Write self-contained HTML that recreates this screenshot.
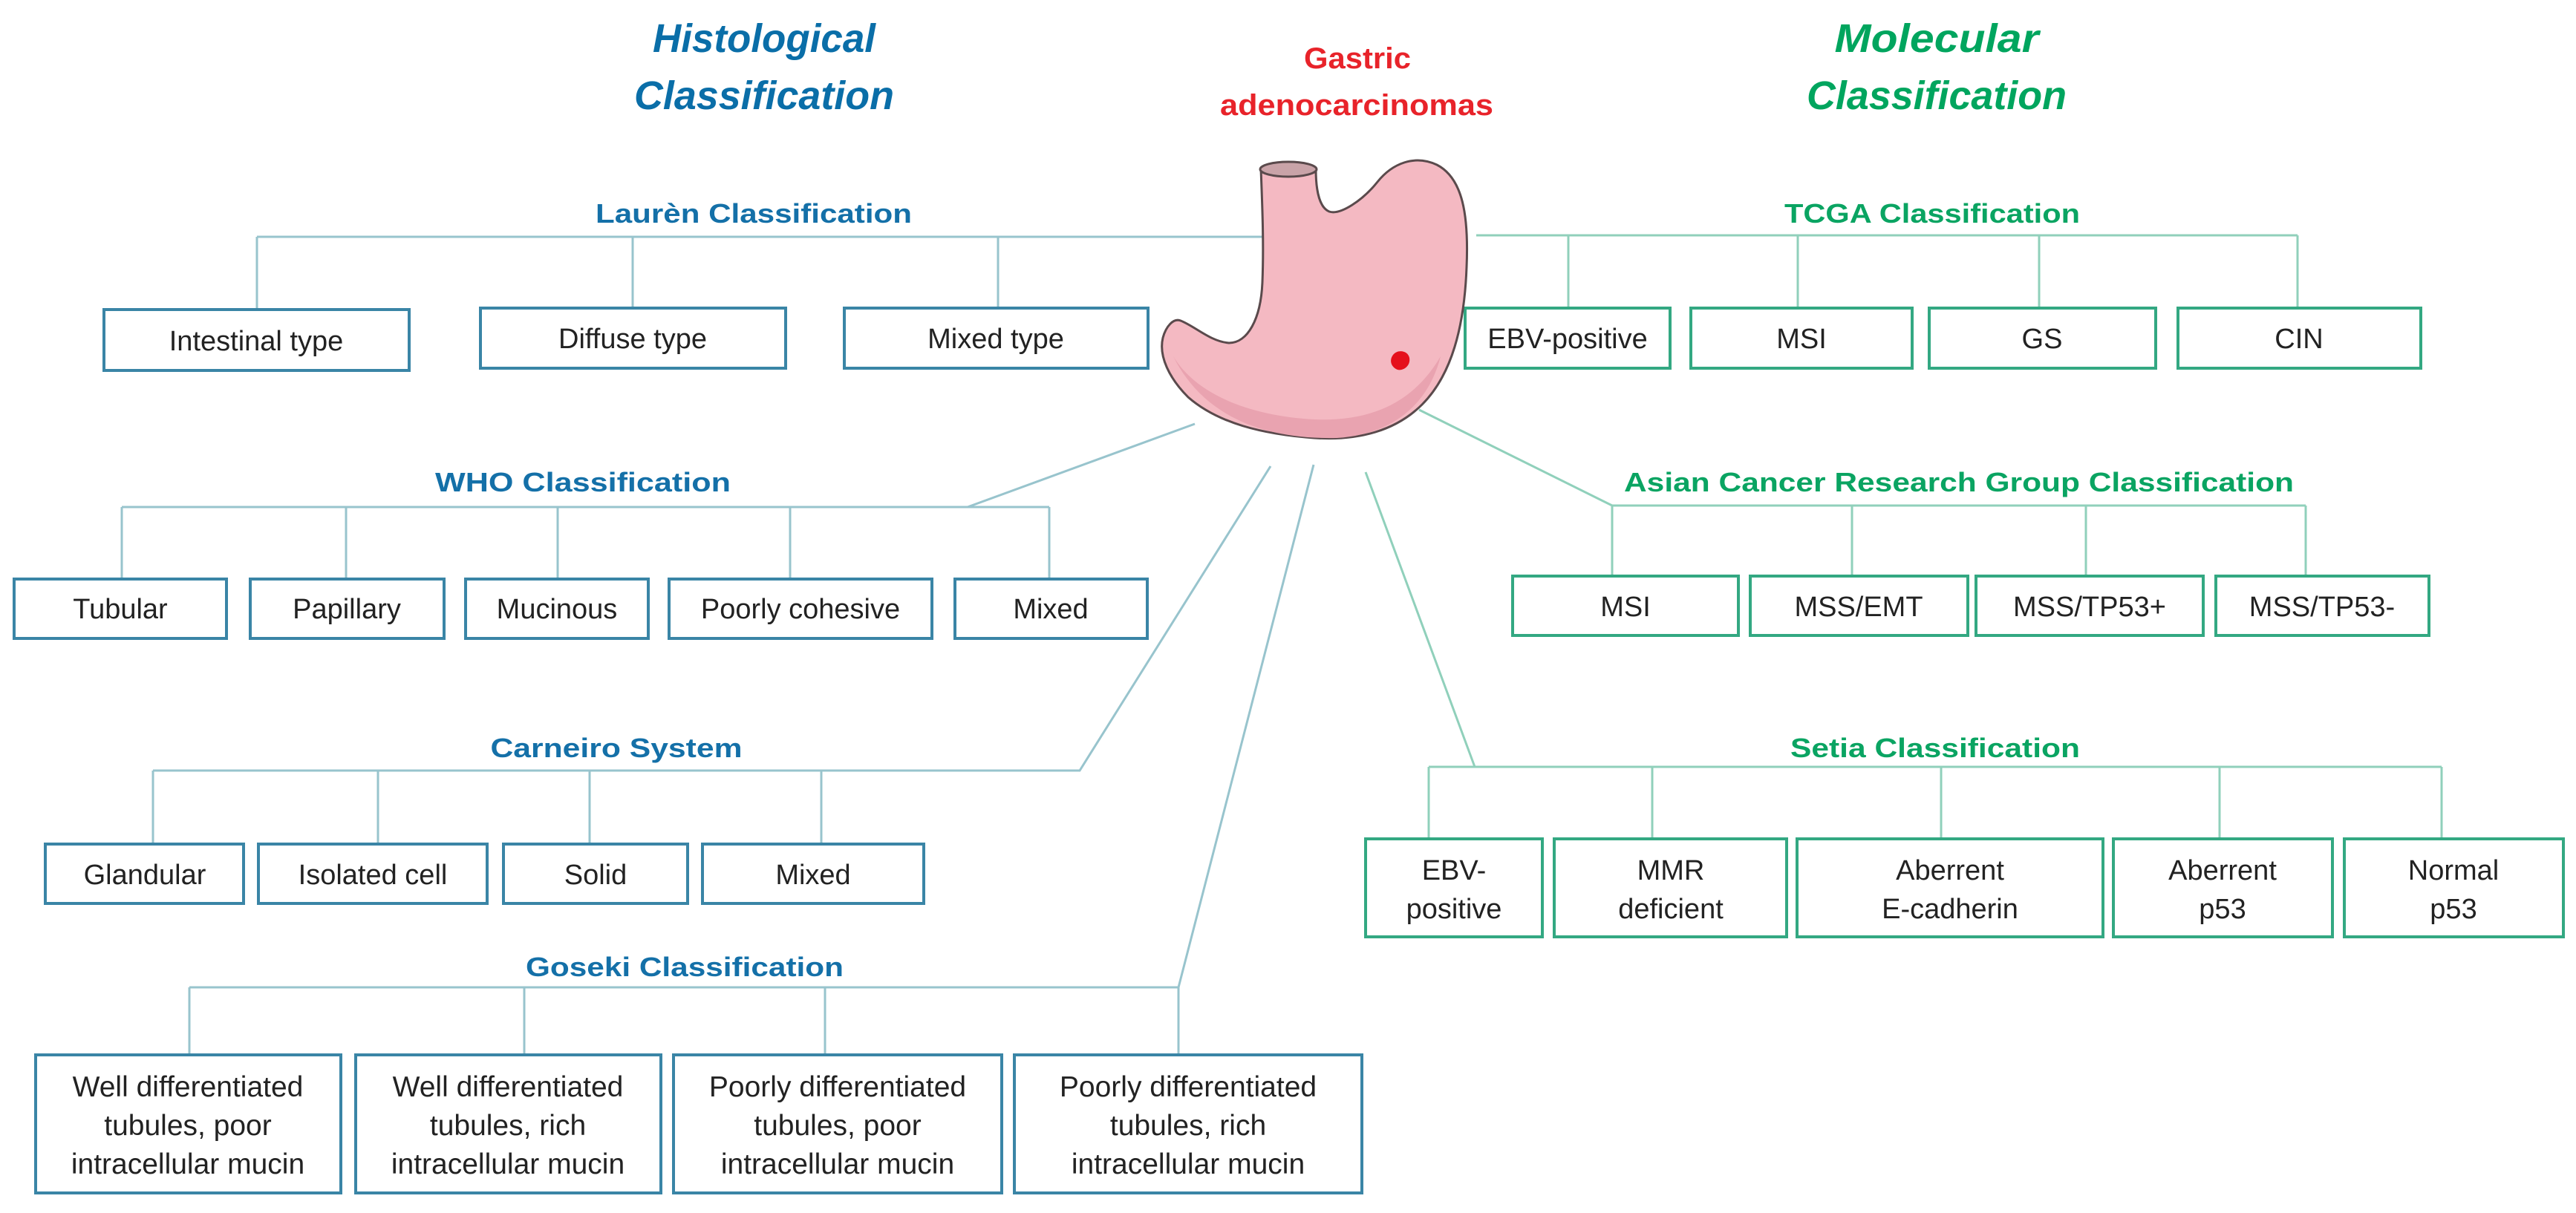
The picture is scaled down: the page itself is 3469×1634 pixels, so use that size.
<!DOCTYPE html>
<html><head><meta charset="utf-8"><style>
html,body{margin:0;padding:0;background:#fff;}
svg{display:block;}
text{font-family:"Liberation Sans",sans-serif;}
.bt{font-size:38px;fill:#222;text-anchor:middle;}
.gt{font-size:39px;fill:#222;text-anchor:middle;}
.hb{font-size:36px;font-weight:bold;fill:#1470a8;text-anchor:middle;}
.hg{font-size:36px;font-weight:bold;fill:#0aa462;text-anchor:middle;}
.bb{fill:#fff;stroke:#3a85a6;stroke-width:4;}
.gb{fill:#fff;stroke:#33a882;stroke-width:4;}
.bl{stroke:#98c4cd;stroke-width:3;fill:none;}
.gl{stroke:#90d0bb;stroke-width:3;fill:none;}
</style></head><body>
<svg width="3469" height="1634" viewBox="0 0 3469 1634" xmlns="http://www.w3.org/2000/svg">
<g font-style="italic" font-weight="bold" font-size="54" text-anchor="middle">
<text x="1029" y="70" fill="#0a6ea8" textLength="300" lengthAdjust="spacingAndGlyphs">Histological</text>
<text x="1029" y="147" fill="#0a6ea8" textLength="350" lengthAdjust="spacingAndGlyphs">Classification</text>
<text x="2608" y="70" fill="#00a55e" textLength="275" lengthAdjust="spacingAndGlyphs">Molecular</text>
<text x="2608" y="147" fill="#00a55e" textLength="350" lengthAdjust="spacingAndGlyphs">Classification</text>
</g>
<g font-weight="bold" font-size="40" text-anchor="middle" fill="#e8232a">
<text x="1828" y="92" textLength="144" lengthAdjust="spacingAndGlyphs">Gastric</text>
<text x="1827" y="155" textLength="368" lengthAdjust="spacingAndGlyphs">adenocarcinomas</text>
</g>

<text class="hb" x="1015" y="300" textLength="426" lengthAdjust="spacingAndGlyphs">Laurèn Classification</text>
<path class="bl" d="M346,319 H1700 M346,319 V417 M852,319 V415 M1344,319 V415"/>
<rect class="bb" x="140" y="417" width="411" height="82"/>
<rect class="bb" x="647" y="415" width="411" height="81"/>
<rect class="bb" x="1137" y="415" width="409" height="81"/>
<text class="bt" x="345" y="472">Intestinal type</text>
<text class="bt" x="852" y="469">Diffuse type</text>
<text class="bt" x="1341" y="469">Mixed type</text>

<text class="hb" x="785" y="662" textLength="398" lengthAdjust="spacingAndGlyphs">WHO Classification</text>
<path class="bl" d="M164,683 H1413 M1303,683 L1609,571 M164,683 V780 M466,683 V780 M751,683 V780 M1064,683 V780 M1413,683 V780"/>
<rect class="bb" x="19" y="780" width="286" height="80"/>
<rect class="bb" x="337" y="780" width="261" height="80"/>
<rect class="bb" x="627" y="780" width="246" height="80"/>
<rect class="bb" x="901" y="780" width="354" height="80"/>
<rect class="bb" x="1286" y="780" width="259" height="80"/>
<text class="bt" x="162" y="833">Tubular</text>
<text class="bt" x="467" y="833">Papillary</text>
<text class="bt" x="750" y="833">Mucinous</text>
<text class="bt" x="1078" y="833">Poorly cohesive</text>
<text class="bt" x="1415" y="833">Mixed</text>

<text class="hb" x="830" y="1020" textLength="339" lengthAdjust="spacingAndGlyphs">Carneiro System</text>
<path class="bl" d="M206,1038 H1454 L1711,628 M206,1038 V1137 M509,1038 V1137 M794,1038 V1137 M1106,1038 V1137"/>
<rect class="bb" x="61" y="1137" width="267" height="80"/>
<rect class="bb" x="348" y="1137" width="308" height="80"/>
<rect class="bb" x="678" y="1137" width="248" height="80"/>
<rect class="bb" x="946" y="1137" width="298" height="80"/>
<text class="bt" x="195" y="1191">Glandular</text>
<text class="bt" x="502" y="1191">Isolated cell</text>
<text class="bt" x="802" y="1191">Solid</text>
<text class="bt" x="1095" y="1191">Mixed</text>

<text class="hb" x="922" y="1315" textLength="428" lengthAdjust="spacingAndGlyphs">Goseki Classification</text>
<path class="bl" d="M255,1330 H1587 L1769,626 M255,1330 V1421 M706,1330 V1421 M1111,1330 V1421 M1587,1330 V1421"/>
<rect class="bb" x="48" y="1421" width="411" height="186"/>
<rect class="bb" x="479" y="1421" width="411" height="186"/>
<rect class="bb" x="907" y="1421" width="442" height="186"/>
<rect class="bb" x="1366" y="1421" width="468" height="186"/>
<text class="gt" x="253" y="1477">Well differentiated</text>
<text class="gt" x="253" y="1529">tubules, poor</text>
<text class="gt" x="253" y="1581">intracellular mucin</text>
<text class="gt" x="684" y="1477">Well differentiated</text>
<text class="gt" x="684" y="1529">tubules, rich</text>
<text class="gt" x="684" y="1581">intracellular mucin</text>
<text class="gt" x="1128" y="1477">Poorly differentiated</text>
<text class="gt" x="1128" y="1529">tubules, poor</text>
<text class="gt" x="1128" y="1581">intracellular mucin</text>
<text class="gt" x="1600" y="1477">Poorly differentiated</text>
<text class="gt" x="1600" y="1529">tubules, rich</text>
<text class="gt" x="1600" y="1581">intracellular mucin</text>

<text class="hg" x="2602" y="300" textLength="398" lengthAdjust="spacingAndGlyphs">TCGA Classification</text>
<path class="gl" d="M1988,317 H3094 M2112,317 V415 M2421,317 V415 M2746,317 V415 M3094,317 V415"/>
<rect class="gb" x="1973" y="415" width="276" height="81"/>
<rect class="gb" x="2277" y="415" width="298" height="81"/>
<rect class="gb" x="2598" y="415" width="305" height="81"/>
<rect class="gb" x="2933" y="415" width="327" height="81"/>
<text class="bt" x="2111" y="469">EBV-positive</text>
<text class="bt" x="2426" y="469">MSI</text>
<text class="bt" x="2750" y="469">GS</text>
<text class="bt" x="3096" y="469">CIN</text>

<text class="hg" x="2638" y="662" textLength="902" lengthAdjust="spacingAndGlyphs">Asian Cancer Research Group Classification</text>
<path class="gl" d="M2171,681 H3105 M2171,681 L1911,552 M2171,681 V776 M2494,681 V776 M2809,681 V776 M3105,681 V776"/>
<rect class="gb" x="2037" y="776" width="304" height="80"/>
<rect class="gb" x="2357" y="776" width="293" height="80"/>
<rect class="gb" x="2661" y="776" width="306" height="80"/>
<rect class="gb" x="2984" y="776" width="287" height="80"/>
<text class="bt" x="2189" y="830">MSI</text>
<text class="bt" x="2503" y="830">MSS/EMT</text>
<text class="bt" x="2814" y="830">MSS/TP53+</text>
<text class="bt" x="3127" y="830">MSS/TP53-</text>

<text class="hg" x="2606" y="1020" textLength="390" lengthAdjust="spacingAndGlyphs">Setia Classification</text>
<path class="gl" d="M1924,1033 H3288 M1986,1033 L1839,636 M1924,1033 V1130 M2225,1033 V1130 M2614,1033 V1130 M2989,1033 V1130 M3288,1033 V1130"/>
<rect class="gb" x="1839" y="1130" width="238" height="132"/>
<rect class="gb" x="2093" y="1130" width="313" height="132"/>
<rect class="gb" x="2420" y="1130" width="412" height="132"/>
<rect class="gb" x="2846" y="1130" width="295" height="132"/>
<rect class="gb" x="3157" y="1130" width="295" height="132"/>
<text class="bt" x="1958" y="1185">EBV-</text>
<text class="bt" x="1958" y="1237">positive</text>
<text class="bt" x="2250" y="1185">MMR</text>
<text class="bt" x="2250" y="1237">deficient</text>
<text class="bt" x="2626" y="1185">Aberrent</text>
<text class="bt" x="2626" y="1237">E-cadherin</text>
<text class="bt" x="2993" y="1185">Aberrent</text>
<text class="bt" x="2993" y="1237">p53</text>
<text class="bt" x="3304" y="1185">Normal</text>
<text class="bt" x="3304" y="1237">p53</text>

<g stroke="#5a4a4c" stroke-width="3" stroke-linejoin="round">
<path fill="#f4b9c2" d="M1698,228 C1700,280 1702,330 1700,380 C1698,430 1680,462 1655,462 C1630,460 1610,440 1590,432 C1580,428 1570,440 1566,455 C1560,480 1575,510 1600,535 C1640,570 1700,585 1770,590 C1830,594 1880,580 1915,545 C1955,505 1972,440 1975,360 C1978,290 1970,240 1935,222 C1905,208 1875,220 1855,245 C1835,270 1805,290 1790,285 C1778,280 1772,260 1772,228 Z"/>
<path fill="#e9a3b0" stroke="none" d="M1580,480 C1610,530 1680,560 1770,565 C1850,568 1905,540 1940,480 C1925,540 1880,585 1800,590 C1700,592 1620,560 1580,480 Z"/>
<ellipse cx="1735" cy="228" rx="38" ry="10" fill="#c9a3a8"/>
</g>
<path d="M1876,478 C1882,470 1896,472 1898,482 C1900,494 1888,500 1882,498 C1874,495 1870,486 1876,478 Z" fill="#e5101c"/>
</svg>
</body></html>
